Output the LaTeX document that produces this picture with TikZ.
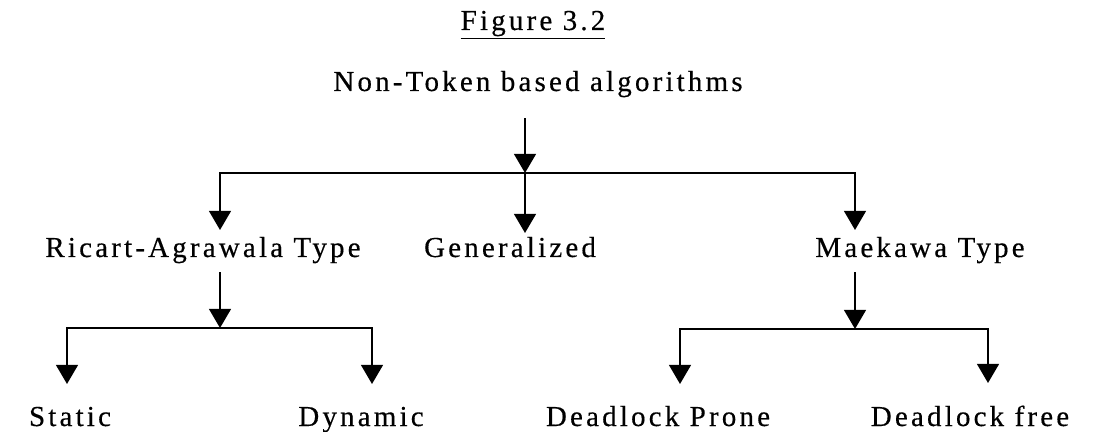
\documentclass[tikz,border=0pt]{standalone}
\usepackage{fontspec}
\setmainfont{Liberation Serif}[LetterSpace=11, FakeBold=0.4]
\usetikzlibrary{arrows.meta}
\tikzset{
  entry/.style={anchor=base, inner sep=0pt, font=\fontsize{20.6}{24}\selectfont},
  arrowline/.style={-{Triangle[length=0.48cm,width=0.55cm]}, line width=1.3pt},
}
\begin{document}
\begin{tikzpicture}[x=0.025cm, y=-0.025cm]
  \useasboundingbox (0,0) rectangle (1103,432);
  % titles
  \node[entry] (fig) at (533,30) {\underline{Figure 3.2}};
  \node[entry] (top) at (538,91) {Non-Token based algorithms};
  % second level
  \node[entry] (ra) at (203,257) {Ricart-Agrawala Type};
  \node[entry] (ge) at (510,257) {Generalized};
  \node[entry] (ma) at (920,257) {Maekawa Type};
  % leaves
  \node[entry] (st) at (70,426) {Static};
  \node[entry] (dy) at (361,426) {Dynamic};
  \node[entry] (dp) at (658,426) {Deadlock Prone};
  \node[entry] (df) at (970,426) {Deadlock free};
  % junctions and arrow tips
  \coordinate (j0) at (525,173);
  \coordinate (j1) at (220,328);
  \coordinate (j2) at (855,329);
  \coordinate (ra in) at (220,230);
  \coordinate (ge in) at (525,233);
  \coordinate (ma in) at (855,230);
  \coordinate (st in) at (67,384);
  \coordinate (dy in) at (372,384);
  \coordinate (dp in) at (680,384);
  \coordinate (df in) at (988,383);
  \draw[arrowline] ([yshift=-0.52cm]top.south -| j0) -- (j0);
  \draw[arrowline] (j0) -| (ra in);
  \draw[arrowline] (j0) -- (ge in);
  \draw[arrowline] (j0) -| (ma in);
  \draw[arrowline] ([yshift=-0.22cm]ra.south -| j1) -- (j1);
  \draw[arrowline] (j1) -| (st in);
  \draw[arrowline] (j1) -| (dy in);
  \draw[arrowline] ([yshift=-0.22cm]ma.south -| j2) -- (j2);
  \draw[arrowline] (j2) -| (dp in);
  \draw[arrowline] (j2) -| (df in);
\end{tikzpicture}
\end{document}
